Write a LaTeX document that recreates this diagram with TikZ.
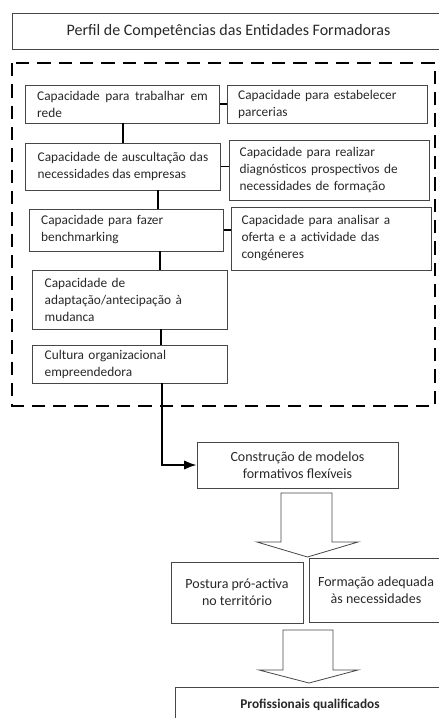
\documentclass[tikz,border=0pt]{standalone}
\usepackage{fontspec}
\setmainfont{Carlito}
\usepackage{tikz}
\usetikzlibrary{arrows.meta,calc,positioning}
\definecolor{InkGrey}{RGB}{40,40,40}
\definecolor{LineGrey}{RGB}{70,70,70}
\hyphenpenalty=10000
\exhyphenpenalty=10000

\begin{document}
\begin{tikzpicture}[>=Latex,x=0.75pt,y=-0.75pt,
  every node/.style={text=InkGrey},
  capA/.style={draw=LineGrey,line width=0.6pt,inner xsep=9pt,inner ysep=2pt,text width=128pt,align=left,font=\fontsize{10}{12.75}\selectfont},
  capB/.style={capA,inner xsep=8pt,text width=134pt},
  outbox/.style={draw=LineGrey,line width=0.6pt,inner sep=2pt,align=center,font=\fontsize{10.5}{13}\selectfont},
  conn/.style={line width=1.4pt,draw=black},
  hollow/.style={draw=LineGrey,line width=0.6pt,line join=miter}]
\useasboundingbox (0,0) rectangle (439,718);
\clip (0,0) rectangle (439,718);

% titulo
\node[draw=LineGrey,line width=0.6pt,minimum width=324.75pt,minimum height=27pt,font=\fontsize{12}{14}\selectfont] (titulo) at (228.5,31) {Perfil de Competências das Entidades Formadoras};

% moldura tracejada
\draw[line width=1.4pt,dash pattern=on 10pt off 6pt] (12,63) rectangle (435,406);

% coluna esquerda
\node[capA,align=justify,minimum height=28.5pt] (rede) at (122.5,104) {Capacidade para trabalhar em rede};
\node[capA,align=justify,minimum height=35.25pt] (ausc) at (123,166.5) {Capacidade de auscultação das necessidades das empresas};
\node[capA,minimum height=31.5pt] (bench) at (126.5,230) {Capacidade para fazer\\benchmarking};
\node[capA,minimum height=44.25pt] (adapt) at (130,299.5) {Capacidade de\\adaptação/antecipação à\\mudanca};
\node[capA,minimum height=28.5pt] (cult) at (130,364) {Cultura organizacional\\empreendedora};

% coluna direita
\node[capB,minimum height=28.5pt] (parc) at (327.5,104) {Capacidade para estabelecer\\parcerias};
\node[capB,minimum height=45pt] (diag) at (329,170) {Capacidade para realizar\\diagnósticos prospectivos de\\necessidades de formação};
\node[capB,minimum height=47.25pt] (cong) at (331,238.5) {Capacidade para analisar a\\oferta e a actividade das\\congéneres};

% ligacoes
\draw[conn] (rede.east) -- (rede.east -| parc.west);
\draw[conn] (ausc.east) -- (ausc.east -| diag.west);
\draw[conn] (bench.east) -- (bench.east -| cong.west);
\draw[conn] (123,0 |- rede.south) -- (123,0 |- ausc.north);
\draw[conn] (158,0 |- ausc.south) -- (158,0 |- bench.north);
\draw[conn] (160,0 |- bench.south) -- (160,0 |- adapt.north);
\draw[conn] (161,0 |- adapt.south) -- (161,0 |- cult.north);

% resultados
\node[outbox,minimum width=150.75pt,minimum height=34.5pt] (model) at (297.5,465) {Construção de modelos\\formativos flexíveis};
\draw[conn,->] (162,0 |- cult.south) |- (model.west);

\node[outbox,minimum width=99pt,minimum height=45.75pt] (post) at (237,592.5) {Postura pró-activa\\no território};
\node[outbox,minimum width=100.5pt,minimum height=48pt] (form) at (376,590) {Formação adequada\\às necessidades};
\node[outbox,minimum width=202.5pt,minimum height=27pt,font=\fontsize{10}{12.75}\selectfont\bfseries] (prof) at (310,705) {Profissionais qualificados};

% setas largas
\draw[hollow] (281,493) -- (281,542) -- (257,542) -- (307.5,557) -- (358,542) -- (332,542) -- (332,493) -- cycle;
\draw[hollow] (283,630) -- (283,670) -- (259,670) -- (309,683) -- (358,670) -- (333,670) -- (333,630) -- cycle;
\end{tikzpicture}
\end{document}
